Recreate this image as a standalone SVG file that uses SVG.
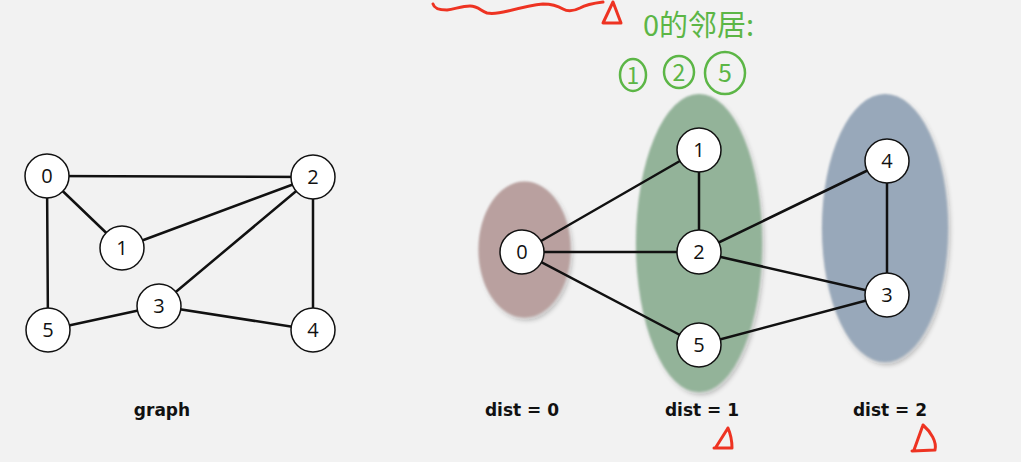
<svg xmlns="http://www.w3.org/2000/svg" width="1021" height="462" viewBox="0 0 1021 462">
  <style>
    .edge { stroke: #111; stroke-width: 2.5; stroke-linecap: round; }
    .node circle { fill: #fff; stroke: #111; stroke-width: 1.5; }
    .node text { font-family: "Open Sans", "DejaVu Sans", sans-serif; font-size: 20px; fill: #111; text-anchor: middle; }
    .label { font-family: "DejaVu Sans", "Liberation Sans", sans-serif; font-weight: bold; font-size: 17px; fill: #111; text-anchor: middle; }
    .ink-red { fill: none; stroke: #ee3322; stroke-width: 3; stroke-linecap: round; stroke-linejoin: round; }
    .ink-green { fill: none; stroke: #5cb646; stroke-width: 2.5; }
    .ink-green-text { font-family: "Noto Sans CJK SC", "Noto Sans", sans-serif; fill: #5cb646; }
  </style>
  <defs>
    <filter id="soft" x="-20%" y="-20%" width="140%" height="140%">
      <feGaussianBlur in="SourceAlpha" stdDeviation="2.5"/>
      <feOffset dx="2" dy="3" result="sh"/>
      <feComponentTransfer in="sh" result="shadow"><feFuncA type="linear" slope="0.25"/></feComponentTransfer>
      <feGaussianBlur in="SourceGraphic" stdDeviation="0.8" result="body"/>
      <feMerge><feMergeNode in="shadow"/><feMergeNode in="body"/></feMerge>
    </filter>
  </defs>

  <rect width="1021" height="462" fill="#f2f2f2"/>

  <!-- distance groups -->
  <g id="levels" filter="url(#soft)">
    <ellipse id="level-0" cx="524.5" cy="249.5" rx="46" ry="68" fill="#b9a09f"/>
    <ellipse id="level-1" cx="699" cy="243" rx="63" ry="149" fill="#93b399"/>
    <ellipse id="level-2" cx="885" cy="228" rx="63" ry="134" fill="#98a8ba"/>
  </g>

  <!-- connectors -->
  <g id="edges">
    <line class="edge" x1="47" y1="176" x2="313" y2="177"/>
    <line class="edge" x1="47" y1="176" x2="122" y2="248"/>
    <line class="edge" x1="47" y1="176" x2="48" y2="330"/>
    <line class="edge" x1="122" y1="248" x2="313" y2="177"/>
    <line class="edge" x1="313" y1="177" x2="159" y2="306"/>
    <line class="edge" x1="313" y1="177" x2="313" y2="330"/>
    <line class="edge" x1="159" y1="306" x2="48" y2="330"/>
    <line class="edge" x1="159" y1="306" x2="313" y2="330"/>

    <line class="edge" x1="522" y1="252" x2="699" y2="150"/>
    <line class="edge" x1="522" y1="252" x2="699" y2="252"/>
    <line class="edge" x1="522" y1="252" x2="699" y2="345"/>
    <line class="edge" x1="699" y1="150" x2="699" y2="252"/>
    <line class="edge" x1="699" y1="252" x2="887" y2="161"/>
    <line class="edge" x1="699" y1="252" x2="887" y2="295"/>
    <line class="edge" x1="699" y1="345" x2="887" y2="295"/>
    <line class="edge" x1="887" y1="161" x2="887" y2="295"/>
  </g>

  <!-- left graph -->
  <g id="g-0" class="node"><circle cx="47" cy="176" r="22"/><text x="47" y="183">0</text></g>
  <g id="g-1" class="node"><circle cx="122" cy="248" r="22"/><text x="122" y="255">1</text></g>
  <g id="g-2" class="node"><circle cx="313" cy="177" r="22"/><text x="313" y="184">2</text></g>
  <g id="g-3" class="node"><circle cx="159" cy="306" r="22"/><text x="159" y="313">3</text></g>
  <g id="g-4" class="node"><circle cx="313" cy="330" r="22"/><text x="313" y="337">4</text></g>
  <g id="g-5" class="node"><circle cx="48" cy="330" r="22"/><text x="48" y="337">5</text></g>

  <!-- BFS layout -->
  <g id="b-0" class="node"><circle cx="522" cy="252" r="22"/><text x="522" y="259">0</text></g>
  <g id="b-1" class="node"><circle cx="699" cy="150" r="22"/><text x="699" y="157">1</text></g>
  <g id="b-2" class="node"><circle cx="699" cy="252" r="22"/><text x="699" y="259">2</text></g>
  <g id="b-5" class="node"><circle cx="699" cy="345" r="22"/><text x="699" y="352">5</text></g>
  <g id="b-4" class="node"><circle cx="887" cy="161" r="22"/><text x="887" y="168">4</text></g>
  <g id="b-3" class="node"><circle cx="887" cy="295" r="22"/><text x="887" y="302">3</text></g>

  <!-- captions -->
  <g id="captions">
    <text class="label" x="162" y="416">graph</text>
    <text class="label" x="522" y="416">dist = 0</text>
    <text class="label" x="702" y="416">dist = 1</text>
    <text class="label" x="890" y="416">dist = 2</text>
  </g>

  <!-- handwritten notes -->
  <g id="notes">
    <path class="ink-red" d="M433,4 C434,8 440,10 447,10 C455,9 462,6 470,6 C478,6 481,11 487,13 C492,14 500,13 508,11 C520,8 533,5 543,4 C552,4 558,6 563,9 C568,12 574,11 580,8 C587,4 595,3 603,2"/>
    <path class="ink-red" d="M613,2 L603,23 L621,23 Z"/>
    <path class="ink-red" d="M728,428 L716,447 M714,448 L732,448 M728,428 C731,435 732,442 732,448"/>
    <path class="ink-red" d="M923,425 L914,450 M912,451 L935,450 M923,425 C931,432 937,442 935,450"/>
    <text class="ink-green-text" x="643" y="36" font-size="29">0的邻居:</text>
    <ellipse class="ink-green" cx="633" cy="75" rx="13" ry="16"/>
    <text class="ink-green-text" x="633" y="84" font-size="23" text-anchor="middle">1</text>
    <ellipse class="ink-green" cx="679" cy="72" rx="15" ry="16"/>
    <text class="ink-green-text" x="679" y="81" font-size="23" text-anchor="middle">2</text>
    <ellipse class="ink-green" cx="725" cy="73" rx="20" ry="21"/>
    <text class="ink-green-text" x="725" y="82" font-size="25" text-anchor="middle">5</text>
  </g>
</svg>
